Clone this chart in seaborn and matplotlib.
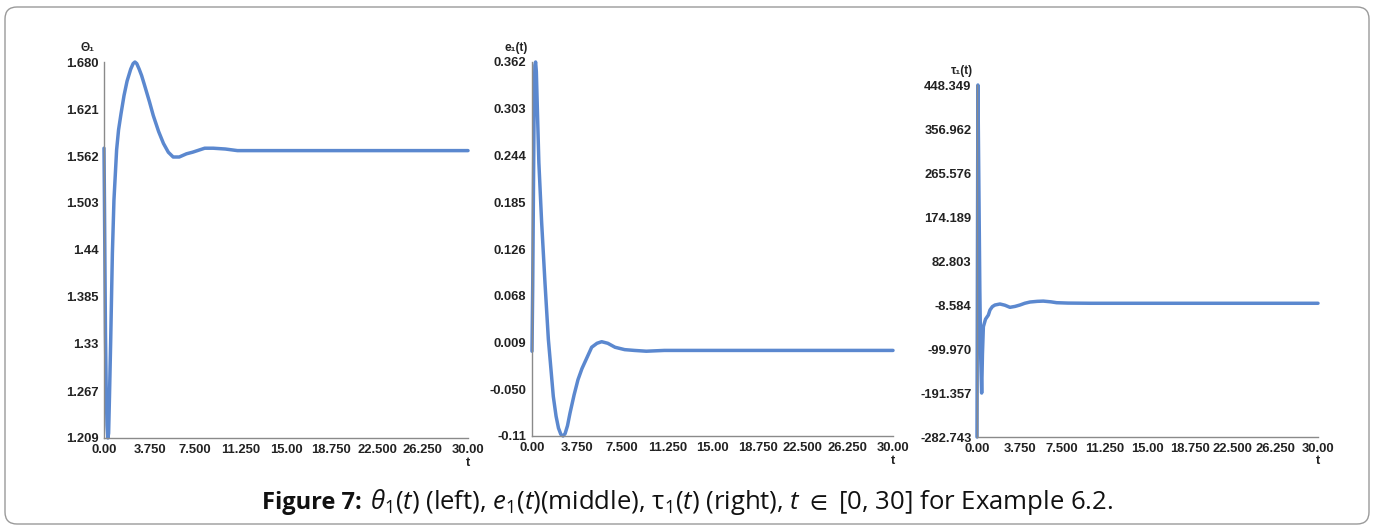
import numpy as np
import pandas as pd
import seaborn as sns
import matplotlib
matplotlib.use("Agg")
import matplotlib.pyplot as plt
from matplotlib.patches import FancyBboxPatch

# ---------------- data ----------------
t_theta = [0, 0.04, 0.08, 0.12, 0.18, 0.25, 0.32, 0.38, 0.45, 0.55, 0.69, 0.82, 1.04, 1.2, 1.4,
           1.65, 1.9, 2.2, 2.4, 2.55, 2.7, 2.9, 3.1, 3.32, 3.75, 4.06, 4.5, 4.9, 5.3, 5.7, 6.2, 6.8,
           7.3, 8.3, 9.0, 10.0, 11.0, 12.5, 15, 20, 25, 30]
theta1 = [1.572, 1.50, 1.42, 1.34, 1.27, 1.225, 1.209, 1.215, 1.26, 1.33, 1.44, 1.507, 1.57, 1.595,
          1.615, 1.638, 1.656, 1.671, 1.678, 1.680, 1.678, 1.671, 1.663, 1.652, 1.630, 1.613, 1.593,
          1.578, 1.567, 1.561, 1.561, 1.565, 1.567, 1.572, 1.572, 1.571, 1.569, 1.569, 1.569, 1.569,
          1.569, 1.569]

t_err = [0, 0.06, 0.12, 0.18, 0.24, 0.30, 0.36, 0.45, 0.57, 0.8, 1.08, 1.36, 1.77, 2.0, 2.2, 2.4,
         2.58, 2.75, 2.95, 3.16, 3.5, 3.82, 4.15, 4.6, 4.96, 5.4, 5.79, 6.3, 6.9, 7.7, 8.5, 9.5, 11,
         12, 15, 20, 25, 30]
e1 = [-0.003, 0.08, 0.20, 0.31, 0.358, 0.362, 0.35, 0.30, 0.235, 0.16, 0.083, 0.012, -0.06, -0.085,
      -0.10, -0.108, -0.11, -0.107, -0.097, -0.081, -0.058, -0.039, -0.025, -0.010, 0.002, 0.007,
      0.009, 0.007, 0.002, -0.001, -0.002, -0.003, -0.002, -0.002, -0.002, -0.002, -0.002, -0.002]

t_tau = [0, 0.04, 0.08, 0.16, 0.25, 0.33, 0.41, 0.48, 0.56, 0.75, 1.0, 1.14, 1.35, 1.58, 2.02, 2.45,
         2.9, 3.35, 3.78, 4.2, 4.66, 5.3, 5.83, 6.5, 7.0, 8.0, 10, 15, 20, 25, 30]
tau1 = [-282.7, 90, 448.3, 250, 20, -120, -191.4, -110, -53.7, -38, -29.4, -19, -12, -8.6, -6.5, -9,
        -13.4, -11.5, -8.6, -5, -2.4, -1, -0.5, -2, -3.8, -4.6, -5, -5, -5, -5, -5]

x_tick_labels = ["0.00", "3.750", "7.500", "11.250", "15.00", "18.750", "22.500", "26.250", "30.00"]
theta_ticks = ["1.209", "1.267", "1.33", "1.385", "1.44", "1.503", "1.562", "1.621", "1.680"]
e_ticks = ["-0.11", "-0.050", "0.009", "0.068", "0.126", "0.185", "0.244", "0.303", "0.362"]
tau_ticks = ["-282.743", "-191.357", "-99.970", "-8.584", "82.803", "174.189", "265.576", "356.962", "448.349"]

y_titles = ["Θ₁", "e₁(t)", "τ₁(t)"]
caption_bold = "Figure 7:"
caption_rest = (r"$\mathit{\theta}_1$($\mathit{t}$) (left), $\mathit{e}_1$($\mathit{t}$)(middle), "
                r"τ$_1$($\mathit{t}$) (right), $\mathit{t}$ $\in$ [0, 30] for Example 6.2.")

# ---------------- style ----------------
sns.set_style("white")
plt.rcParams["font.family"] = ["Liberation Sans", "DejaVu Sans"]
plt.rcParams["mathtext.fontset"] = "custom"
plt.rcParams["mathtext.rm"] = "Open Sans"
plt.rcParams["mathtext.it"] = "Open Sans:italic"
plt.rcParams["mathtext.bf"] = "Open Sans:bold"
plt.rcParams["mathtext.fallback"] = "stixsans"

W, H = 1375, 531
fig = plt.figure(figsize=(W / 100, H / 100), dpi=100)
fig.patch.set_facecolor("white")

line_color = "#5B88CF"
spine_color = "#8a8a8a"


def px_axes(l, r, t, b):
    return [l / W, (H - b) / H, (r - l) / W, (b - t) / H]


panels = [
    (px_axes(104, 468, 62, 438), t_theta, theta1, theta_ticks, y_titles[0]),
    (px_axes(532, 893, 62, 436), t_err, e1, e_ticks, y_titles[1]),
    (px_axes(977, 1318, 85, 437), t_tau, tau1, tau_ticks, y_titles[2]),
]

for rect, tx, vy, yt, ytitle in panels:
    ax = fig.add_axes(rect)
    df = pd.DataFrame({"t": tx, "v": vy})
    sns.lineplot(data=df, x="t", y="v", ax=ax, color=line_color, linewidth=2.5,
                 estimator=None, sort=False, clip_on=False)
    ymin, ymax = float(yt[0]), float(yt[-1])
    ax.set_xlim(0, 30)
    ax.set_ylim(ymin, ymax)
    ax.set_xticks(np.linspace(0, 30, len(x_tick_labels)), x_tick_labels)
    ax.set_yticks(np.linspace(ymin, ymax, len(yt)), yt)
    for s in ["top", "right"]:
        ax.spines[s].set_visible(False)
    for s in ["left", "bottom"]:
        ax.spines[s].set_color(spine_color)
        ax.spines[s].set_linewidth(1.0)
    ax.tick_params(axis="both", which="major", direction="inout", length=4, width=0.8,
                   color=spine_color, labelsize=9.4, pad=2)
    for lab in ax.get_xticklabels() + ax.get_yticklabels():
        lab.set_fontweight("bold")
        lab.set_color("#222222")
    ax.set_xlabel("")
    ax.set_ylabel("")
    ax.text(1.0, -0.05, "t", transform=ax.transAxes, ha="center", va="top",
            fontsize=9.4, fontweight="bold", color="#222222")
    ax.text(-0.045, 1.022, ytitle, transform=ax.transAxes, ha="center", va="bottom",
            fontsize=8.5, fontweight="bold", color="#222222")
    ax.patch.set_alpha(0)

# border box
box = FancyBboxPatch((0.05, 0.07), 13.64, 5.17, boxstyle="round,pad=0,rounding_size=0.12",
                     transform=fig.dpi_scale_trans, facecolor="none", edgecolor="#9a9a9a",
                     linewidth=1.0)
fig.patches.append(box)

# caption: bold lead + regular rest, centred together
cap_y = (H - 509) / H
t1 = fig.text(0, cap_y, caption_bold, ha="left", va="baseline", fontsize=17,
              family=["Open Sans", "DejaVu Sans"], fontweight="bold", color="#111111")
t2 = fig.text(0, cap_y, caption_rest, ha="left", va="baseline", fontsize=18.5,
              family=["Open Sans", "DejaVu Sans"], color="#111111")
fig.canvas.draw()
r = fig.canvas.get_renderer()
w1 = t1.get_window_extent(r).width
w2 = t2.get_window_extent(r).width
gap = 8
total = w1 + gap + w2
x0 = 688 - total / 2
t1.set_x(x0 / W)
t2.set_x((x0 + w1 + gap) / W)

fig.savefig("out.png", dpi=100)
